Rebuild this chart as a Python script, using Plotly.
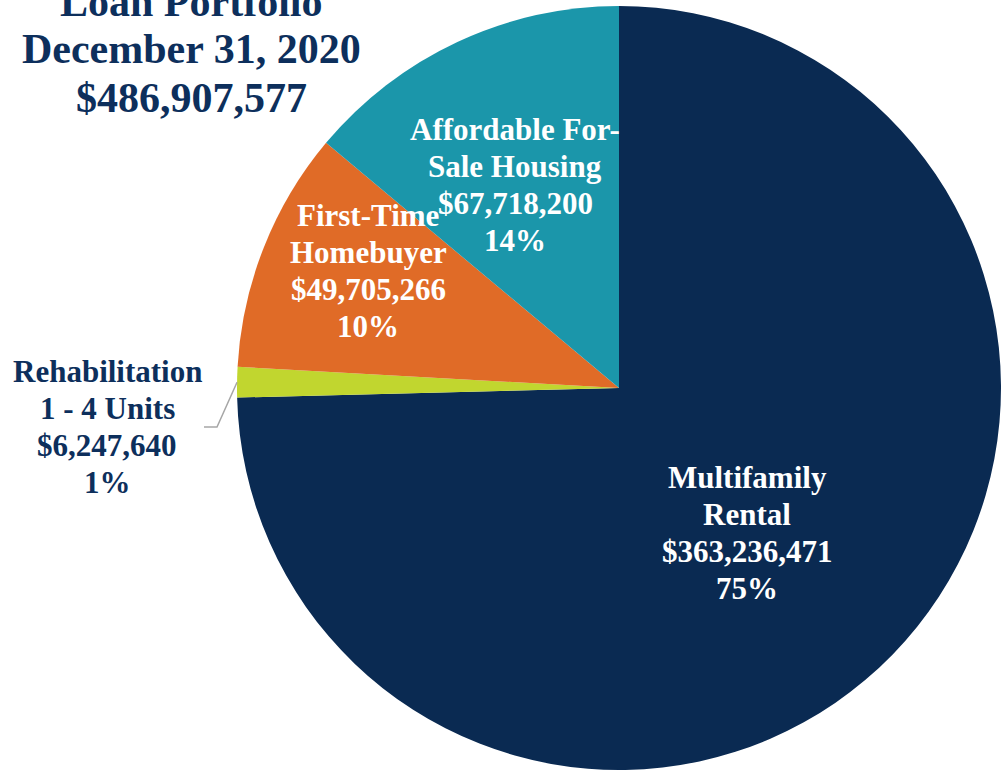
import math
import plotly.graph_objects as go

# ---- data ----
categories = ["Multifamily Rental", "Rehabilitation 1 - 4 Units",
              "First-Time Homebuyer", "Affordable For-Sale Housing"]
label_lines = [["Multifamily", "Rental"],
               ["Rehabilitation", "1 - 4 Units"],
               ["First-Time", "Homebuyer"],
               ["Affordable For-", "Sale Housing"]]
values = [363236471, 6247640, 49705266, 67718200]
colors = ["#0a2a52", "#c1d62f", "#e06b27", "#1b96aa"]
title_lines = ["Loan Portfolio", "December 31, 2020", "$486,907,577"]

W, H = 1001, 770
total = sum(values)

# pie geometry (pixels)
top_px = 6
dom_h = H - top_px
dom_w = dom_h
x0_px = W - dom_w
cx = x0_px + dom_w / 2
cy = top_px + dom_h / 2
r = dom_w / 2

fig = go.Figure()
fig.add_trace(go.Pie(
    labels=categories, values=values, sort=False, direction="clockwise",
    rotation=0, marker=dict(colors=colors, line=dict(width=0)),
    textinfo="none", hoverinfo="label+value+percent", showlegend=False,
    domain=dict(x=[x0_px / W, 1], y=[0, 1 - top_px / H]),
))

def px(x):
    return x / W

def py(y):
    return 1 - y / H

FONT = "Liberation Serif, Times New Roman, serif"

# title (partly cut off at the top, as in the reference)
title_pos = [(191, 2), (191, 49), (191, 98)]
for line, (x, y) in zip(title_lines, title_pos):
    fig.add_annotation(x=px(x), y=py(y), xref="paper", yref="paper",
                       text=f"<b>{line}</b>", showarrow=False,
                       xanchor="center", yanchor="middle",
                       font=dict(family=FONT, size=42, color="#0d2f5c"))

# slice labels, one annotation per line for tight line spacing
label_pos = [(747, 533), (107, 427), (368, 271), (515, 185)]
label_colors = ["white", "#0d2f5c", "white", "white"]
LINE_GAP = 36.8
for lines, v, (x, y), c in zip(label_lines, values, label_pos, label_colors):
    pct = round(100 * v / total)
    all_lines = lines + [f"${v:,}", f"{pct}%"]
    n = len(all_lines)
    for i, l in enumerate(all_lines):
        yy = y + (i - (n - 1) / 2) * LINE_GAP
        fig.add_annotation(x=px(x), y=py(yy), xref="paper", yref="paper",
                           text=f"<b>{l}</b>", showarrow=False,
                           xanchor="center", yanchor="middle",
                           font=dict(family=FONT, size=31, color=c))

# leader line for the small slice
cum = values[0] + values[1] / 2
theta = 2 * math.pi * cum / total
ex = cx + r * math.sin(theta)
ey = cy - r * math.cos(theta)
elbow = (217, 427)
end = (204, 427)
fig.add_shape(type="path", xref="paper", yref="paper",
              path=f"M {px(ex)},{py(ey)} L {px(elbow[0])},{py(elbow[1])} L {px(end[0])},{py(end[1])}",
              line=dict(color="#a6a6a6", width=1.5))

fig.update_layout(width=W, height=H, margin=dict(l=0, r=0, t=0, b=0),
                  paper_bgcolor="white", plot_bgcolor="white")
fig.write_html("out.html")
